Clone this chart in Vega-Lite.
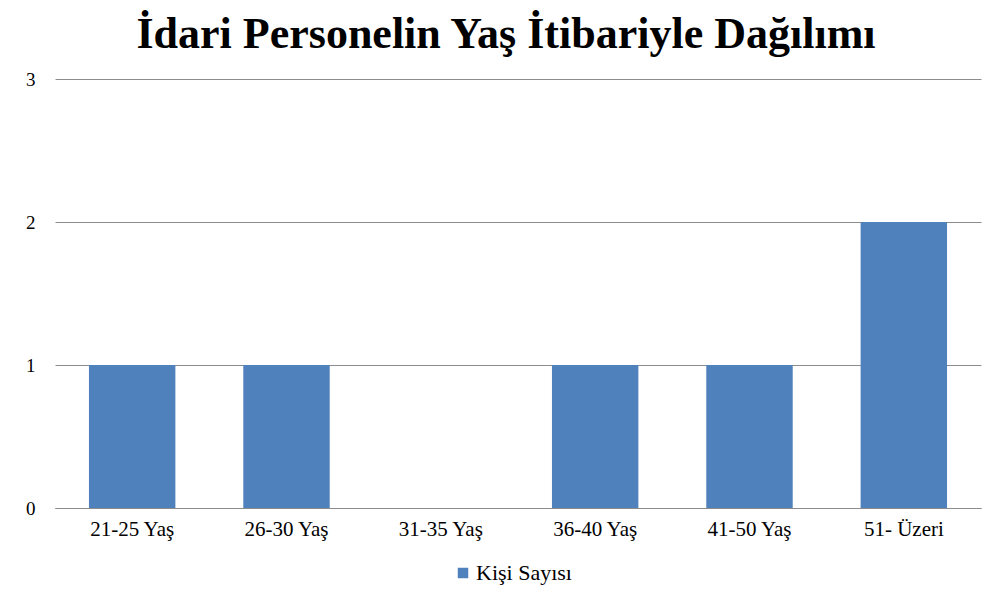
{
  "$schema": "https://vega.github.io/schema/vega-lite/v6.json",
  "autosize": "none",
  "width": 926,
  "height": 429,
  "padding": {"left": 55, "top": 79, "right": 17, "bottom": 95},
  "background": "white",
  "title": {
    "text": "İdari Personelin Yaş İtibariyle Dağılımı",
    "font": "Liberation Serif",
    "fontSize": 44,
    "fontWeight": "bold",
    "color": "black",
    "anchor": "middle",
    "frame": "group",
    "dx": -12,
    "offset": 13
  },
  "data": {
    "values": [
      {"grup": "21-25 Yaş", "seri": "Kişi Sayısı", "sayi": 1},
      {"grup": "26-30 Yaş", "seri": "Kişi Sayısı", "sayi": 1},
      {"grup": "31-35 Yaş", "seri": "Kişi Sayısı", "sayi": 0},
      {"grup": "36-40 Yaş", "seri": "Kişi Sayısı", "sayi": 1},
      {"grup": "41-50 Yaş", "seri": "Kişi Sayısı", "sayi": 1},
      {"grup": "51- Üzeri", "seri": "Kişi Sayısı", "sayi": 2}
    ]
  },
  "mark": {"type": "bar"},
  "encoding": {
    "x": {
      "field": "grup",
      "type": "nominal",
      "sort": null,
      "title": null,
      "scale": {"paddingInner": 0.44, "paddingOuter": 0.22},
      "axis": {
        "labelAngle": 0,
        "ticks": false,
        "domain": true,
        "domainColor": "#8c8c8c",
        "domainWidth": 1,
        "labelFont": "Liberation Serif",
        "labelFontSize": 21,
        "labelColor": "black",
        "labelPadding": 10
      }
    },
    "y": {
      "field": "sayi",
      "type": "quantitative",
      "title": null,
      "scale": {"domain": [0, 3]},
      "axis": {
        "values": [0, 1, 2, 3],
        "format": "d",
        "ticks": false,
        "domain": false,
        "grid": true,
        "gridColor": "#8c8c8c",
        "gridWidth": 1,
        "labelFont": "Liberation Serif",
        "labelFontSize": 19,
        "labelColor": "black",
        "labelPadding": 20
      }
    },
    "color": {
      "field": "seri",
      "type": "nominal",
      "title": null,
      "scale": {"range": ["#4F81BD"]},
      "legend": {
        "orient": "none",
        "legendX": 397,
        "legendY": 483,
        "direction": "horizontal",
        "symbolType": "square",
        "symbolSize": 110,
        "symbolStrokeWidth": 0,
        "labelFont": "Liberation Serif",
        "labelFontSize": 22,
        "labelColor": "black",
        "labelOffset": 2
      }
    }
  },
  "config": {
    "view": {"stroke": null},
    "font": "Liberation Serif",
    "legend": {"labelFont": "Liberation Serif"}
  }
}
